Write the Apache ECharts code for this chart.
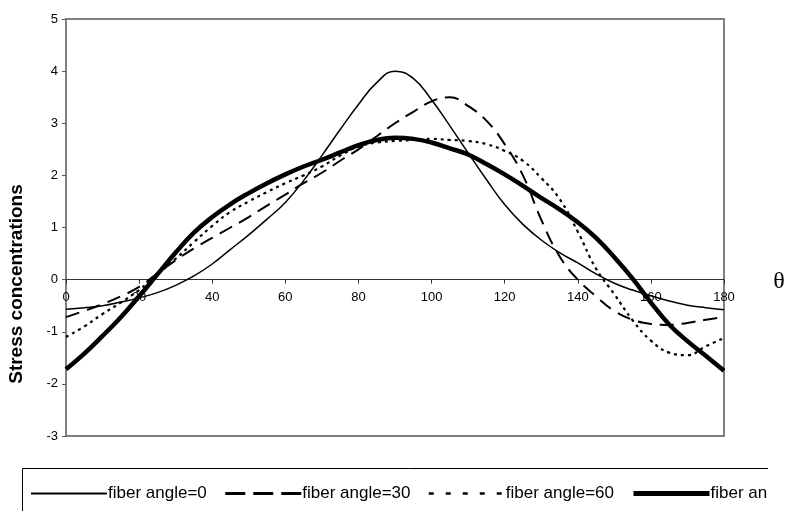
<!DOCTYPE html>
<html>
<head>
<meta charset="utf-8">
<script src="https://cdn.jsdelivr.net/npm/echarts@6/dist/echarts.min.js"></script>
<style>
  html, body { margin: 0; padding: 0; background: #fff; }
  #chart { width: 795px; height: 511px; }
</style>
</head>
<body>
<div id="chart"></div>
<script>
// theta, every 5 degrees
var theta = [0, 5, 10, 15, 20, 25, 30, 35, 40, 45, 50, 55, 60, 65, 70, 75, 80, 85, 90,
  95, 100, 105, 110, 115, 120, 125, 130, 135, 140, 145, 150, 155, 160, 165, 170, 175, 180]

var seriesNames = ['fiber angle=0', 'fiber angle=30', 'fiber angle=60', 'fiber angle=90']

// stress concentrations
var angle0 = [-0.57, -0.54, -0.5, -0.43, -0.35, -0.25, -0.11, 0.07, 0.3, 0.58, 0.86, 1.16, 1.48, 1.9, 2.38, 2.88, 3.36, 3.78, 4.0,
  3.86, 3.45, 2.95, 2.43, 1.92, 1.44, 1.06, 0.76, 0.52, 0.32, 0.11, -0.07, -0.2, -0.31, -0.41, -0.49, -0.54, -0.58]
var angle30 = [-0.72, -0.6, -0.47, -0.32, -0.14, 0.12, 0.37, 0.6, 0.8, 1.0, 1.2, 1.42, 1.63, 1.85, 2.05, 2.28, 2.5, 2.75, 3.0,
  3.22, 3.42, 3.5, 3.33, 3.05, 2.6, 2.0, 1.15, 0.45, 0.0, -0.32, -0.6, -0.77, -0.85, -0.87, -0.83, -0.77, -0.72]
var angle60 = [-1.1, -0.9, -0.66, -0.44, -0.2, 0.1, 0.4, 0.72, 1.03, 1.3, 1.5, 1.68, 1.85, 2.0, 2.17, 2.38, 2.55, 2.63, 2.66,
  2.68, 2.7, 2.68, 2.66, 2.6, 2.47, 2.28, 1.95, 1.55, 0.92, 0.21, -0.28, -0.78, -1.17, -1.4, -1.45, -1.28, -1.12]
var angle90 = [-1.72, -1.42, -1.08, -0.72, -0.32, 0.1, 0.52, 0.9, 1.2, 1.45, 1.66, 1.85, 2.02, 2.17, 2.3, 2.44, 2.58, 2.68, 2.72,
  2.7, 2.63, 2.52, 2.4, 2.22, 2.02, 1.8, 1.57, 1.35, 1.1, 0.8, 0.43, 0.02, -0.44, -0.86, -1.18, -1.46, -1.75]

function pairs(ys) {
  var out = []
  for (var i = 0; i < theta.length; i++) {
    out.push([theta[i], ys[i]])
  }
  return out
}

var chart = echarts.init(document.getElementById('chart'))
var font = '"Liberation Sans", Arial, sans-serif'

// grid is 19..436 px for -3..5, x axis sits on 0
var gridTop = 19
var gridBottom = 75
var zeroOffset = -(511 - gridBottom - gridTop) * 3 / 8

function lineSeries(i, ys, style) {
  return {
    name: seriesNames[i],
    type: 'line',
    smooth: 0.45,
    symbol: 'none',
    data: pairs(ys),
    itemStyle: { color: '#000' },
    lineStyle: style
  }
}

var option = {
  animation: false,
  backgroundColor: '#fff',
  textStyle: { fontFamily: font },
  grid: {
    left: 66,
    right: 71,
    top: gridTop,
    bottom: gridBottom,
    show: true,
    borderColor: '#808080',
    borderWidth: 2
  },
  xAxis: {
    type: 'value',
    min: 0,
    max: 180,
    interval: 20,
    position: 'bottom',
    offset: zeroOffset,
    axisLine: { onZero: false, lineStyle: { color: '#333', width: 1 } },
    axisTick: { show: true, length: 4, lineStyle: { color: '#333' } },
    axisLabel: { color: '#000', fontSize: 13, margin: 11, fontFamily: font },
    splitLine: { show: false }
  },
  yAxis: {
    type: 'value',
    min: -3,
    max: 5,
    interval: 1,
    axisLine: { show: true, lineStyle: { color: '#808080', width: 2 } },
    axisTick: { show: true, length: 4, lineStyle: { color: '#555' } },
    axisLabel: { color: '#000', fontSize: 13, margin: 8, fontFamily: font },
    splitLine: { show: false }
  },
  legend: {
    left: 30,
    top: 485,
    width: 1200,
    padding: 0,
    itemWidth: 76,
    itemHeight: 16,
    itemGap: 17,
    itemStyle: { opacity: 0 },
    textStyle: { color: '#000', fontSize: 17, fontFamily: font, padding: [0, 0, 0, -4] },
    data: [
      { name: seriesNames[0], lineStyle: { width: 2 } },
      { name: seriesNames[1], lineStyle: { width: 3, type: [20, 8] } },
      { name: seriesNames[2], lineStyle: { width: 2.5, type: [5, 12] } },
      { name: seriesNames[3], lineStyle: { width: 5 } }
    ]
  },
  graphic: [
    {
      // legend frame, cut off at the right like the original
      type: 'rect',
      shape: { x: 22.5, y: 468.5, width: 820, height: 80 },
      style: { fill: null, stroke: '#000', lineWidth: 1 },
      z: 1
    },
    {
      type: 'rect',
      shape: { x: 768, y: 460, width: 40, height: 60 },
      style: { fill: '#fff' },
      z: 100
    },
    {
      type: 'text',
      x: 17,
      y: 284,
      rotation: Math.PI / 2,
      style: {
        text: 'Stress concentrations',
        font: 'bold 19px ' + font,
        fill: '#000',
        textAlign: 'center',
        textVerticalAlign: 'middle'
      }
    },
    {
      type: 'text',
      x: 779,
      y: 282,
      style: {
        text: 'θ',
        font: '24px "Liberation Serif", "DejaVu Serif", serif',
        fill: '#000',
        textAlign: 'center',
        textVerticalAlign: 'middle'
      }
    }
  ],
  series: [
    lineSeries(0, angle0, { color: '#000', width: 1.5, type: 'solid' }),
    lineSeries(1, angle30, { color: '#000', width: 2, type: [14, 8] }),
    lineSeries(2, angle60, { color: '#000', width: 2.2, type: [3, 4] }),
    lineSeries(3, angle90, { color: '#000', width: 4.5, type: 'solid' })
  ]
}
chart.setOption(option, true)
</script>
</body>
</html>
